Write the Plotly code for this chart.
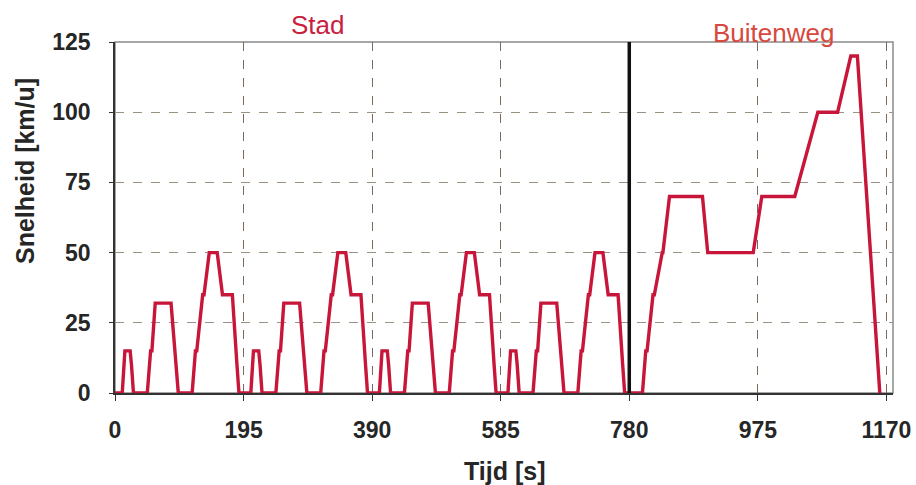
import plotly.graph_objects as go

# ECE-15 urban cycle (one repetition, seconds / km/u)
ece_t = [0, 11, 15, 23, 25, 28, 49, 54, 56, 61, 85, 93, 96, 117, 122, 124, 133, 135, 143, 155, 163, 176, 178, 185, 188, 195]
ece_v = [0, 0, 15, 15, 10, 0, 0, 15, 15, 32, 32, 10, 0, 0, 15, 15, 35, 35, 50, 50, 35, 35, 35, 10, 0, 0]
city_repeats = 4
ece_len = 195

# EUDC extra-urban part (time relative to its start)
eudc_t = [0, 20, 25, 27, 36, 38, 50, 51, 61, 111, 119, 188, 201, 251, 286, 316, 336, 346, 380]
eudc_v = [0, 0, 15, 15, 35, 35, 50, 50, 70, 70, 50, 50, 70, 70, 100, 100, 120, 120, 0]

x_ticks = [0, 195, 390, 585, 780, 975, 1170]
y_ticks = [0, 25, 50, 75, 100, 125]
section_labels = ["Stad", "Buitenweg"]
section_label_x = [308, 999]

city_end = city_repeats * ece_len
t_all, v_all = [], []
for k in range(city_repeats):
    t_all += [k * ece_len + t for t in ece_t]
    v_all += ece_v
t_all += [city_end + t for t in eudc_t]
v_all += eudc_v

fig = go.Figure()
fig.add_trace(go.Scatter(x=t_all, y=v_all, mode="lines",
                         line=dict(color="#c8163a", width=3.4), hoverinfo="skip"))

font_main = "Liberation Sans, Arial, sans-serif"
tick_font = dict(size=23, family=font_main, color="#262626", weight="bold")
fig.update_layout(
    width=916, height=485,
    margin=dict(l=115, r=23, t=42, b=92, autoexpand=False),
    paper_bgcolor="white", plot_bgcolor="white",
    showlegend=False,
    font=dict(family=font_main, color="#262626"),
    xaxis=dict(range=[0, 1180], tickvals=x_ticks, ticktext=[str(v) for v in x_ticks],
               showgrid=True, gridcolor="#7a6a5c", griddash="dash", gridwidth=1.4,
               showline=True, linecolor="#333", linewidth=1.5,
               ticks="outside", ticklen=6, tickcolor="#333",
               tickfont=tick_font, automargin=False,
               ticklabelstandoff=10, zeroline=False),
    yaxis=dict(range=[0, 125], tickvals=y_ticks,
               showgrid=True, gridcolor="#9c9283", griddash="dash", gridwidth=1.3,
               showline=True, linecolor="#333", linewidth=1.5,
               ticks="outside", ticklen=4, tickcolor="#333",
               tickfont=tick_font, automargin=False,
               ticklabelstandoff=14, zeroline=False),
)

# grey plot frame (top/right)
fig.add_shape(type="rect", xref="paper", yref="paper", x0=0, x1=1, y0=0, y1=1,
              line=dict(color="#8a8a8a", width=1.5), layer="below")
# divider between city and extra-urban part
fig.add_shape(type="line", xref="x", yref="paper", x0=city_end, x1=city_end, y0=0, y1=1,
              line=dict(color="#111", width=3.5))

fig.add_annotation(text=section_labels[0], x=section_label_x[0], y=1.0, xref="x", yref="paper",
                   yanchor="bottom", yshift=0, showarrow=False,
                   font=dict(size=26, color="#c8203e", family=font_main))
fig.add_annotation(text=section_labels[1], x=section_label_x[1], y=1.0, xref="x", yref="paper",
                   yanchor="bottom", yshift=-8, showarrow=False,
                   font=dict(size=26, color="#d8483c", family=font_main))
fig.add_annotation(text="<b>Snelheid [km/u]</b>", xref="paper", yref="paper",
                   x=(25 - 115) / 778, y=(393 - 171) / 351, textangle=-90, showarrow=False,
                   xanchor="center", yanchor="middle",
                   font=dict(size=25, color="#262626", family=font_main))
fig.add_annotation(text="<b>Tijd [s]</b>", xref="paper", yref="paper",
                   x=0.5, y=(393 - 471) / 351, showarrow=False, xanchor="center", yanchor="middle",
                   font=dict(size=25, color="#262626", family=font_main))

fig.write_html("out.html", config={"displayModeBar": False},
               post_script="document.body.style.margin='0px';document.body.style.padding='0px';")
